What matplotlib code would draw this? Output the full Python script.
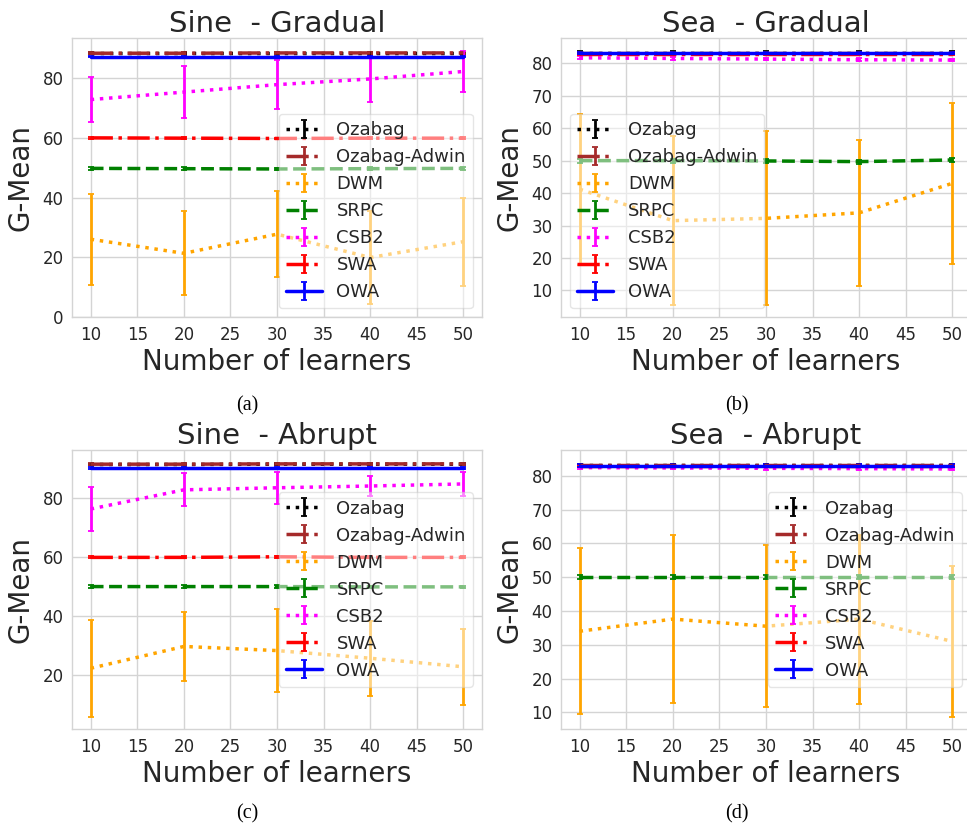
import matplotlib
matplotlib.use('Agg')
import matplotlib.pyplot as plt

# =========================
# Data
# =========================
learners = [10, 20, 30, 40, 50]
methods = ['Ozabag', 'Ozabag-Adwin', 'DWM', 'SRPC', 'CSB2', 'SWA', 'OWA']
colors = ['black', 'brown', 'orange', 'green', 'magenta', 'red', 'blue']
styles = [':', '-.', ':', '--', ':', '-.', '-']

# rows follow the order of `methods`
sine_gradual_mean = [
    [88.3, 88.3, 88.3, 88.3, 88.3],
    [88.3, 88.3, 88.4, 88.4, 88.4],
    [26.1, 21.4, 27.8, 20.0, 25.3],
    [49.8, 49.7, 49.6, 49.7, 49.8],
    [72.8, 75.3, 77.8, 79.7, 82.2],
    [60.0, 59.9, 59.8, 59.9, 59.9],
    [87.2, 87.2, 87.2, 87.2, 87.2],
]
sine_gradual_err = [
    [0.3, 0.3, 0.3, 0.3, 0.3],
    [0.3, 0.3, 0.3, 0.3, 0.3],
    [15.2, 14.0, 14.4, 15.4, 14.7],
    [0.4, 0.4, 0.4, 0.4, 0.4],
    [7.4, 8.7, 8.3, 7.8, 7.0],
    [0.3, 0.3, 0.3, 0.3, 0.3],
    [0.3, 0.3, 0.3, 0.3, 0.3],
]

sea_gradual_mean = [
    [83.3, 83.3, 83.3, 83.3, 83.3],
    [83.2, 83.2, 83.2, 83.2, 83.2],
    [41.2, 31.5, 32.2, 33.9, 43.0],
    [50.0, 50.0, 49.9, 49.7, 50.2],
    [81.7, 81.5, 81.3, 81.1, 81.0],
    [83.0, 83.0, 83.0, 83.0, 83.0],
    [83.2, 83.2, 83.2, 83.2, 83.2],
]
sea_gradual_err = [
    [0.4, 0.4, 0.4, 0.4, 0.4],
    [0.4, 0.4, 0.4, 0.4, 0.4],
    [23.3, 26.1, 26.8, 22.5, 24.8],
    [0.6, 0.6, 0.6, 0.6, 0.6],
    [0.4, 0.4, 0.4, 0.4, 0.4],
    [0.4, 0.4, 0.4, 0.4, 0.4],
    [0.4, 0.4, 0.4, 0.4, 0.4],
]

sine_abrupt_mean = [
    [91.5, 91.5, 91.6, 91.6, 91.6],
    [91.6, 91.6, 91.7, 91.7, 91.7],
    [22.4, 29.8, 28.4, 25.8, 22.9],
    [50.1, 50.1, 50.1, 50.0, 50.0],
    [76.4, 82.9, 83.6, 84.2, 84.9],
    [60.0, 60.0, 60.2, 60.0, 60.0],
    [90.4, 90.4, 90.4, 90.4, 90.4],
]
sine_abrupt_err = [
    [0.3, 0.3, 0.3, 0.3, 0.3],
    [0.3, 0.3, 0.3, 0.3, 0.3],
    [16.5, 11.6, 14.0, 12.7, 12.8],
    [0.4, 0.4, 0.4, 0.4, 0.4],
    [7.3, 5.6, 5.5, 3.3, 4.1],
    [0.3, 0.3, 0.3, 0.3, 0.3],
    [0.3, 0.3, 0.3, 0.3, 0.3],
]

sea_abrupt_mean = [
    [83.2, 83.2, 83.2, 83.2, 83.2],
    [83.1, 83.1, 83.1, 83.1, 83.1],
    [34.0, 37.6, 35.5, 37.6, 31.0],
    [50.0, 50.0, 50.0, 50.0, 50.0],
    [82.4, 82.3, 82.2, 82.1, 82.0],
    [82.9, 82.9, 82.9, 82.9, 82.9],
    [83.0, 83.0, 83.0, 83.0, 83.0],
]
sea_abrupt_err = [
    [0.4, 0.4, 0.4, 0.4, 0.4],
    [0.4, 0.4, 0.4, 0.4, 0.4],
    [24.6, 24.9, 23.9, 25.0, 22.3],
    [0.6, 0.6, 0.6, 0.6, 0.6],
    [0.4, 0.4, 0.4, 0.4, 0.4],
    [0.4, 0.4, 0.4, 0.4, 0.4],
    [0.4, 0.4, 0.4, 0.4, 0.4],
]

titles = ['Sine  - Gradual', 'Sea  - Gradual', 'Sine  - Abrupt', 'Sea  - Abrupt']
captions = ['(a)', '(b)', '(c)', '(d)']

# =========================
# Style
# =========================
plt.style.use('seaborn-v0_8-whitegrid')
plt.rcParams['font.family'] = 'DejaVu Sans'
plt.rcParams['text.color'] = '0.15'
plt.rcParams['axes.labelcolor'] = '0.15'
plt.rcParams['xtick.color'] = '0.15'
plt.rcParams['ytick.color'] = '0.15'

fig = plt.figure(figsize=(9.67, 8.3), dpi=100)

# axes boxes in figure fractions, y limits, y ticks, legend loc, caption position
panels = [
    (sine_gradual_mean, sine_gradual_err, [0.0745, 0.6177, 0.424, 0.3369],
     (0.2, 93.5), [0, 20, 40, 60, 80], 'lower right', (0.2554, 0.511)),
    (sea_gradual_mean, sea_gradual_err, [0.5801, 0.6177, 0.424, 0.3369],
     (1.7, 87.9), [10, 20, 30, 40, 50, 60, 70, 80], 'lower left', (0.7621, 0.511)),
    (sine_abrupt_mean, sine_abrupt_err, [0.0745, 0.1213, 0.424, 0.3365],
     (1.7, 96.4), [20, 40, 60, 80], 'center right', (0.2554, 0.0193)),
    (sea_abrupt_mean, sea_abrupt_err, [0.5801, 0.1213, 0.424, 0.3365],
     (5.0, 87.6), [10, 20, 30, 40, 50, 60, 70, 80], 'center right', (0.7621, 0.0193)),
]

for i, (means, errs, box, ylim, yticks, loc, cap) in enumerate(panels):
    ax = fig.add_axes(box)
    for m in range(len(methods)):
        ax.errorbar(learners, means[m], yerr=errs[m], label=methods[m],
                    color=colors[m], linestyle=styles[m], linewidth=2.5,
                    elinewidth=2, capsize=2.5, capthick=1.3)
    ax.set_xlim(8, 52)
    ax.set_ylim(*ylim)
    ax.set_xticks([10, 15, 20, 25, 30, 35, 40, 45, 50])
    ax.set_yticks(yticks)
    ax.tick_params(length=0, pad=6, labelsize=12)
    ax.grid(True, color='0.83', linewidth=1)
    for s in ax.spines.values():
        s.set_color('0.83')
    ax.set_title(titles[i], fontsize=21, pad=2.5)
    ax.set_xlabel('Number of learners', fontsize=20, labelpad=3)
    ax.set_ylabel('G-Mean', fontsize=20, labelpad=6)
    ax.legend(loc=loc, fontsize=13, frameon=True, framealpha=0.5)
    fig.text(cap[0], cap[1], captions[i], ha='center', va='center',
             fontsize=14.5, family='Liberation Serif', color='black')

fig.savefig('out.png', dpi=100)
